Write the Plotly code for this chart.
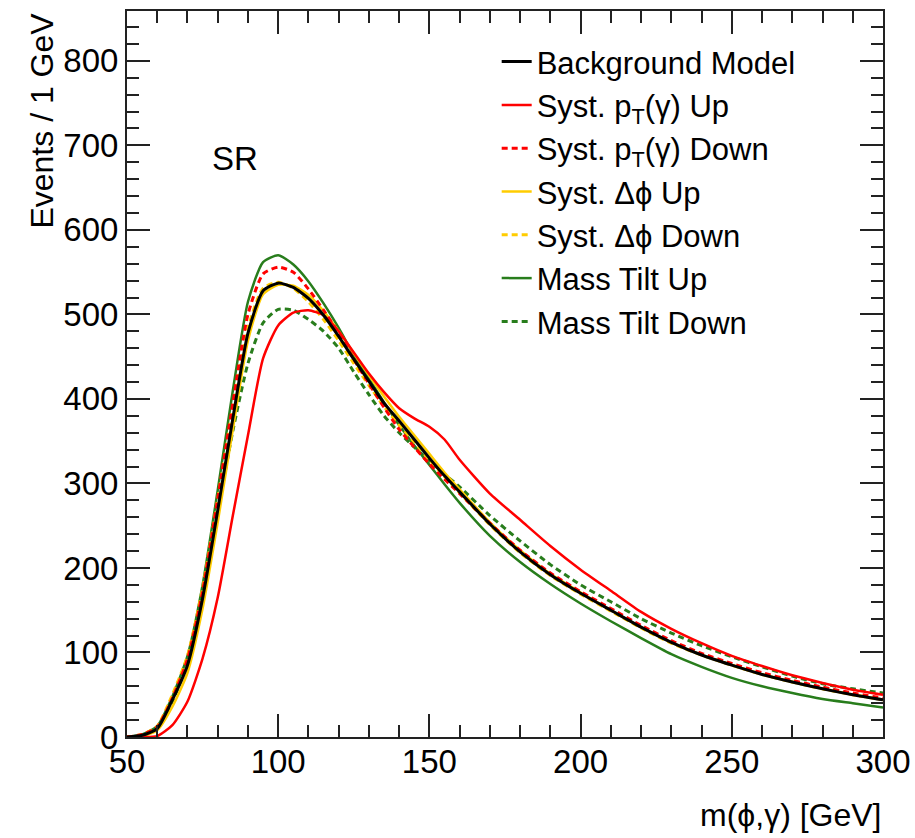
import plotly.graph_objects as go

# m(phi,gamma) [GeV] sample points
mass = [50, 55, 60, 65, 70, 75, 80, 85, 90, 95, 100, 105, 110, 115, 120, 125, 130,
        135, 140, 145, 150, 155, 160, 170, 180, 190, 200, 210, 220, 230, 240, 250,
        260, 270, 280, 290, 300]

background_model = [0, 2, 10, 44, 85, 164, 268, 377, 478, 528, 537, 532, 519, 499, 474,
                    447, 421, 395, 374, 352, 330, 309, 290, 252, 219, 192, 170, 150, 130,
                    112, 97, 85, 74, 65, 57, 50, 44]
pt_up = [0, 0, 1, 14, 42, 93, 165, 262, 357, 448, 487, 502, 505, 499, 480, 455, 430,
         408, 389, 377, 367, 352, 328, 288, 257, 226, 198, 173, 148, 128, 111, 96,
         84, 73, 64, 56, 50]
pt_down = [0, 3, 12, 46, 92, 172, 282, 395, 500, 548, 556, 550, 530, 505, 478, 447,
           418, 390, 364, 343, 323, 305, 288, 253, 221, 194, 172, 152, 132, 114, 99,
           87, 76, 67, 59, 52, 46]
dphi_up = [0, 1, 8, 36, 76, 152, 254, 364, 469, 524, 535, 534, 523, 504, 480, 454,
           428, 403, 379, 357, 335, 313, 293, 254, 221, 193, 171, 150, 130, 112, 97,
           85, 74, 65, 57, 50, 44]
dphi_down = [0, 3, 13, 50, 96, 176, 282, 389, 484, 531, 538, 531, 515, 494, 469, 442,
             416, 391, 369, 349, 328, 308, 289, 251, 218, 191, 169, 149, 129, 111, 97,
             85, 74, 65, 57, 50, 44]
tilt_up = [0, 3, 13, 48, 96, 180, 292, 410, 515, 562, 570, 559, 539, 513, 484, 452,
           424, 396, 369, 345, 322, 299, 277, 238, 207, 181, 158, 137, 117, 98, 83,
           70, 60, 52, 45, 40, 35]
tilt_down = [0, 2, 11, 42, 88, 165, 265, 362, 442, 490, 506, 505, 494, 480, 460, 432,
             405, 380, 360, 343, 327, 311, 296, 262, 232, 204, 180, 160, 140, 123, 108,
             95, 83, 72, 63, 57, 52]

series = [
    ("Background Model", background_model, "#000000", "solid", 3),
    ("Syst. p<sub>T</sub>(γ) Up", pt_up, "#ff0000", "solid", 2.5),
    ("Syst. p<sub>T</sub>(γ) Down", pt_down, "#ff0000", "6px,4px", 3),
    ("Syst. Δϕ Up", dphi_up, "#ffcc00", "solid", 2.5),
    ("Syst. Δϕ Down", dphi_down, "#ffcc00", "6px,4px", 3),
    ("Mass Tilt Up", tilt_up, "#287d1c", "solid", 2.5),
    ("Mass Tilt Down", tilt_down, "#287d1c", "6px,4px", 3),
]

FONT = "Liberation Sans, Arial, Helvetica, sans-serif"

fig = go.Figure()
names = [s[0] for s in series]
# draw in reverse so the black model is on top, keep legend order
for name, vals, col, dash, w in series[::-1]:
    fig.add_trace(go.Scatter(
        x=mass, y=vals, mode="lines", name=name,
        line=dict(color=col, dash=dash, width=w, shape="spline", smoothing=0.6),
        legendrank=names.index(name) + 1,
    ))

axis_common = dict(
    showline=True, linecolor="#222222", linewidth=2, mirror="allticks",
    ticks="inside", tickwidth=2, tickcolor="#222222", showgrid=False,
    zeroline=False, tickfont=dict(family=FONT, size=33, color="black"),
    automargin=False,
)

fig.update_xaxes(range=[50, 300], tick0=50, dtick=50, ticklen=23,
                 ticklabelstandoff=-6,
                 minor=dict(dtick=10, ticks="inside", ticklen=12, tickwidth=2,
                            tickcolor="#222222", showgrid=False),
                 **axis_common)
fig.update_yaxes(range=[0, 859], tick0=0, dtick=100, ticklen=23,
                 minor=dict(dtick=20, ticks="inside", ticklen=12, tickwidth=2,
                            tickcolor="#222222", showgrid=False),
                 **axis_common)

fig.update_layout(
    width=915, height=838,
    margin=dict(l=127, r=32, t=11, b=101),
    paper_bgcolor="white", plot_bgcolor="white",
    font=dict(family=FONT, color="black"),
    showlegend=True,
    legend=dict(x=0.489, y=0.967, xanchor="left", yanchor="top",
                bgcolor="rgba(0,0,0,0)", font=dict(family=FONT, size=31),
                tracegroupgap=0, itemwidth=30, traceorder="normal"),
    annotations=[
        dict(text="Events / 1 GeV", xref="paper", yref="paper", x=-0.113, y=1.0,
             xanchor="center", yanchor="top", textangle=-90, showarrow=False,
             font=dict(family=FONT, size=32)),
        dict(text="m(ϕ,γ) [GeV]", xref="paper", yref="paper", x=1.0, y=-0.108,
             xanchor="right", yanchor="middle", showarrow=False,
             font=dict(family=FONT, size=32)),
        dict(text="SR", xref="x", yref="y", x=85.7, y=685, xanchor="center",
             yanchor="middle", showarrow=False, font=dict(family=FONT, size=33)),
    ],
)

fig.write_html("out.html", config={"displayModeBar": False},
               post_script="document.body.style.margin='0px';")
